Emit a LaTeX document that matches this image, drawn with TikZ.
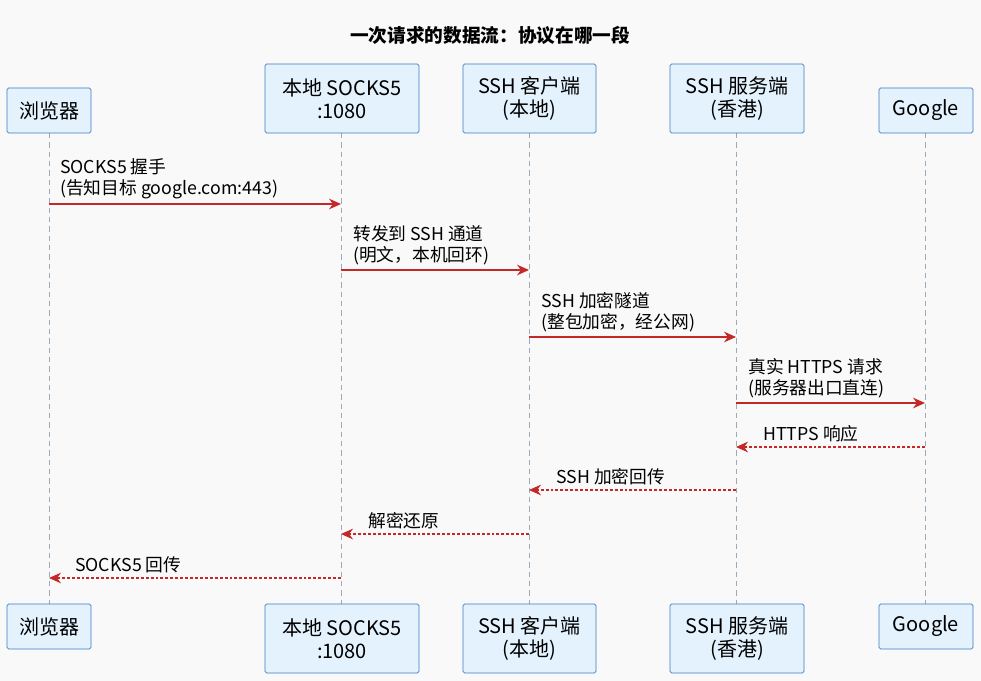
\documentclass[tikz,border=0pt]{standalone}
\usepackage{fontspec}
\setmainfont{Noto Sans CJK SC}
\usetikzlibrary{arrows.meta}
\definecolor{bg}{HTML}{F9F9F9}
\definecolor{boxfill}{HTML}{E3F2FD}
\definecolor{boxline}{HTML}{3A7CC4}
\definecolor{arr}{HTML}{C62828}
\definecolor{life}{HTML}{9AAAB8}
\begin{document}
\begin{tikzpicture}[x=0.75pt,y=-0.75pt,
  part/.style={draw=boxline,fill=boxfill,rounded corners=1.2pt,line width=0.6pt,font=\fontsize{15}{17}\selectfont,align=center,inner sep=0pt},
  lifeline/.style={draw=life,dash pattern=on 4pt off 3pt,line width=0.5pt},
  msg/.style={draw=arr,line width=1pt,-{Stealth[length=9pt,width=8pt]}},
  ret/.style={msg,dash pattern=on 2.2pt off 1.5pt},
  lbl/.style={font=\fontsize{13.3}{15.5}\selectfont,align=left,anchor=south west,inner sep=0pt}]
\fill[bg] (0,0) rectangle (981,681);
\useasboundingbox (0,0) rectangle (981,681);
\node[font=\bfseries\fontsize{14}{16}\selectfont] (title) at (490,35) {一次请求的数据流：协议在哪一段};
% lifelines
\foreach \n/\x in {a/49,b/341,c/529,d/736,e/925}{
  \coordinate (\n top) at (\x,133);
  \coordinate (\n bot) at (\x,604);
  \draw[lifeline] (\n top) -- (\n bot);
}
% top boxes
\node[part,minimum width=84*0.75pt,minimum height=45*0.75pt] (a1) at (49,110.5) {浏览器};
\node[part,minimum width=154*0.75pt,minimum height=69*0.75pt] (b1) at (342,98.5) {本地 SOCKS5\\:1080};
\node[part,minimum width=133*0.75pt,minimum height=69*0.75pt] (c1) at (529.5,98.5) {SSH 客户端\\(本地)};
\node[part,minimum width=134*0.75pt,minimum height=69*0.75pt] (d1) at (737,98.5) {SSH 服务端\\(香港)};
\node[part,minimum width=94*0.75pt,minimum height=45*0.75pt] (e1) at (926,110.5) {Google};
% bottom boxes
\node[part,minimum width=84*0.75pt,minimum height=45*0.75pt] (a2) at (49,626.5) {浏览器};
\node[part,minimum width=154*0.75pt,minimum height=69*0.75pt] (b2) at (342,638.5) {本地 SOCKS5\\:1080};
\node[part,minimum width=133*0.75pt,minimum height=69*0.75pt] (c2) at (529.5,638.5) {SSH 客户端\\(本地)};
\node[part,minimum width=134*0.75pt,minimum height=69*0.75pt] (d2) at (737,638.5) {SSH 服务端\\(香港)};
\node[part,minimum width=94*0.75pt,minimum height=45*0.75pt] (e2) at (926,626.5) {Google};
% messages
\foreach \n/\f/\t/\y in {m1/a/b/204,m2/b/c/270,m3/c/d/337,m4/d/e/403,m5/e/d/447,m6/d/c/490,m7/c/b/534,m8/b/a/578}{
  \coordinate (\n s) at (\f top |- 0,\y);
  \coordinate (\n e) at (\t top |- 0,\y);
}
\draw[msg] (m1s) -- (m1e);
\node[lbl] (l1) at (60,199) {SOCKS5 握手\\(告知目标 google.com:443)};
\draw[msg] (m2s) -- (m2e);
\node[lbl] (l2) at (353,265) {转发到 SSH 通道\\(明文，本机回环)};
\draw[msg] (m3s) -- (m3e);
\node[lbl] (l3) at (541,332) {SSH 加密隧道\\(整包加密，经公网)};
\draw[msg] (m4s) -- (m4e);
\node[lbl] (l4) at (748,398) {真实 HTTPS 请求\\(服务器出口直连)};
\draw[ret] (m5s) -- (m5e);
\node[lbl] (l5) at (763,442) {HTTPS 响应};
\draw[ret] (m6s) -- (m6e);
\node[lbl] (l6) at (556,485) {SSH 加密回传};
\draw[ret] (m7s) -- (m7e);
\node[lbl] (l7) at (368,529) {解密还原};
\draw[ret] (m8s) -- (m8e);
\node[lbl] (l8) at (75,573) {SOCKS5 回传};
\end{tikzpicture}
\end{document}
